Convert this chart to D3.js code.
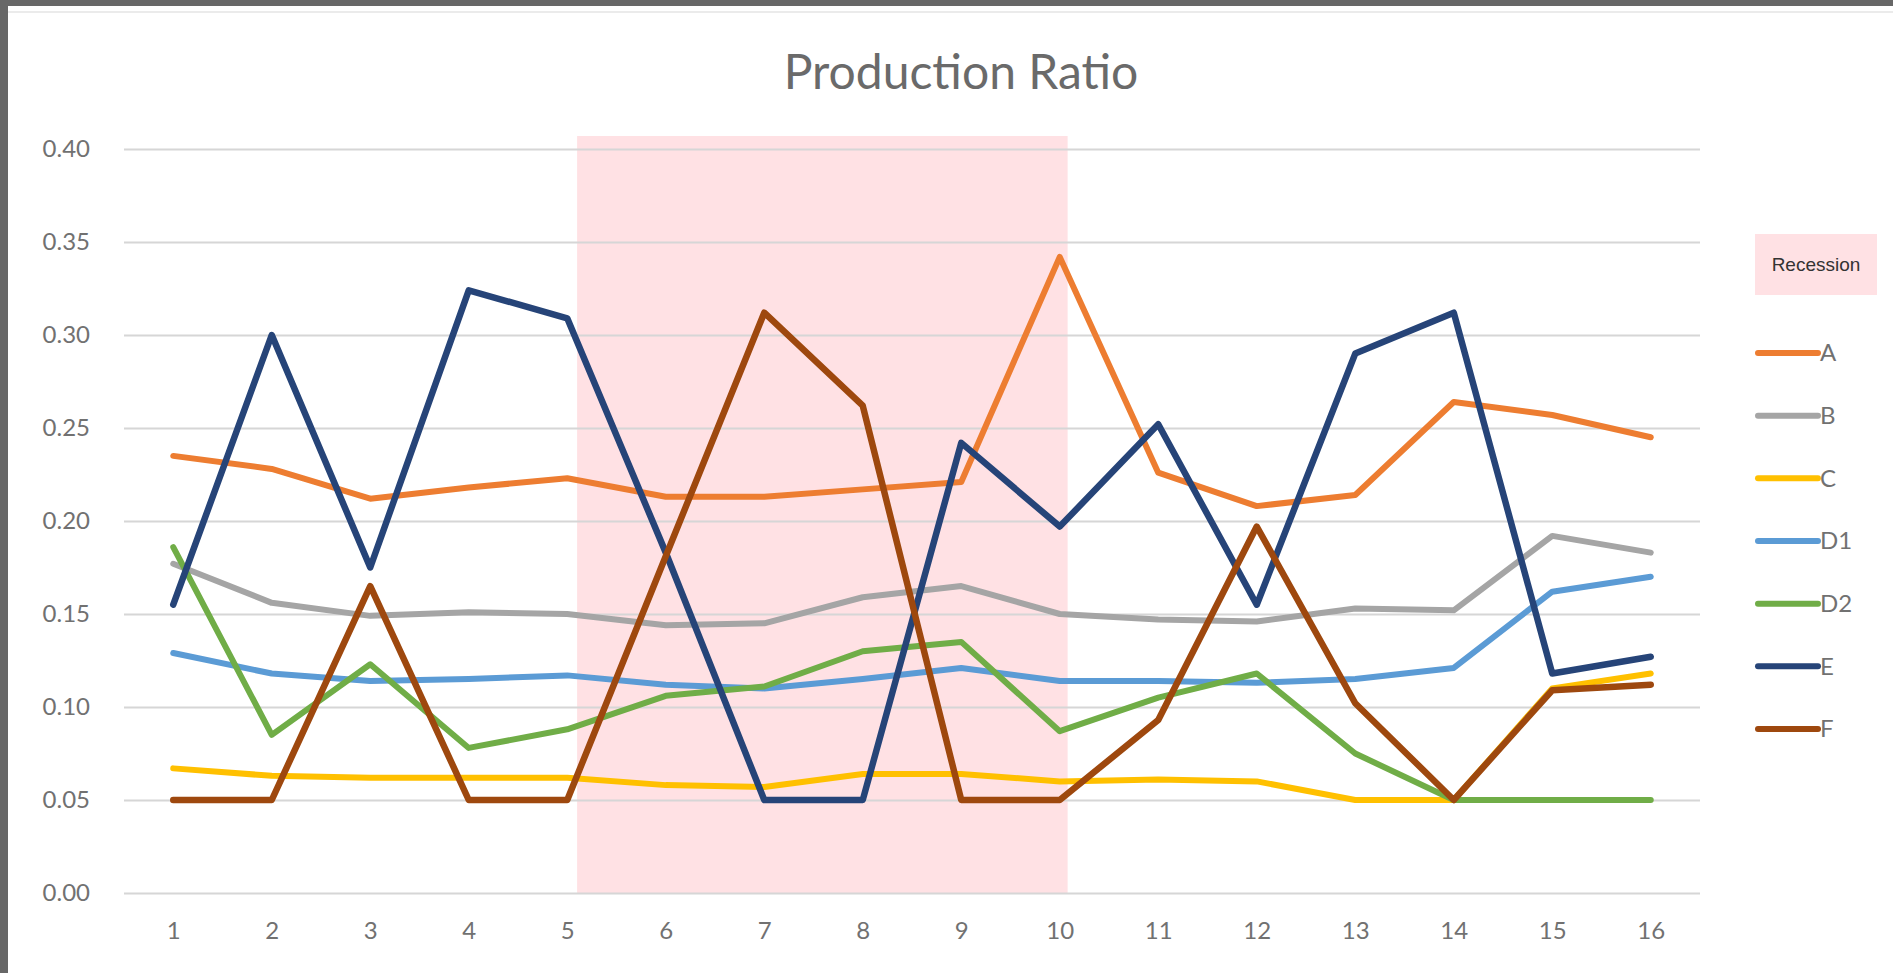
<!DOCTYPE html>
<html>
<head>
<meta charset="utf-8">
<title>Production Ratio</title>
<script src="https://cdn.jsdelivr.net/npm/d3@7"></script>
<style>
  html, body { margin: 0; padding: 0; background: #676767; overflow: hidden; }
  svg { display: block; }
</style>
</head>
<body>
<svg id="chart" width="1893" height="973"></svg>
<script>
// ---- data ----
const categories = [1, 2, 3, 4, 5, 6, 7, 8, 9, 10, 11, 12, 13, 14, 15, 16];
const yTicks = [0.00, 0.05, 0.10, 0.15, 0.20, 0.25, 0.30, 0.35, 0.40];

const seriesA  = [0.235, 0.228, 0.212, 0.218, 0.223, 0.213, 0.213, 0.217, 0.221, 0.342, 0.226, 0.208, 0.214, 0.264, 0.257, 0.245];
const seriesB  = [0.177, 0.156, 0.149, 0.151, 0.150, 0.144, 0.145, 0.159, 0.165, 0.150, 0.147, 0.146, 0.153, 0.152, 0.192, 0.183];
const seriesC  = [0.067, 0.063, 0.062, 0.062, 0.062, 0.058, 0.057, 0.064, 0.064, 0.060, 0.061, 0.060, 0.050, 0.050, 0.110, 0.118];
const seriesD1 = [0.129, 0.118, 0.114, 0.115, 0.117, 0.112, 0.110, 0.115, 0.121, 0.114, 0.114, 0.113, 0.115, 0.121, 0.162, 0.170];
const seriesD2 = [0.186, 0.085, 0.123, 0.078, 0.088, 0.106, 0.111, 0.130, 0.135, 0.087, 0.105, 0.118, 0.075, 0.050, 0.050, 0.050];
const seriesE  = [0.155, 0.300, 0.175, 0.324, 0.309, 0.183, 0.050, 0.050, 0.242, 0.197, 0.252, 0.155, 0.290, 0.312, 0.118, 0.127];
const seriesF  = [0.050, 0.050, 0.165, 0.050, 0.050, 0.181, 0.312, 0.262, 0.050, 0.050, 0.093, 0.197, 0.102, 0.050, 0.109, 0.112];

const seriesNames  = ["A", "B", "C", "D1", "D2", "E", "F"];
const seriesValues = [seriesA, seriesB, seriesC, seriesD1, seriesD2, seriesE, seriesF];
const seriesColors = ["#ED7D31", "#A5A5A5", "#FFC000", "#5B9BD5", "#70AD47", "#264478", "#9E480E"];

// shaded recession period, in category units and axis value
const recessionLabel = "Recession";
const recessionStart = 5.1;
const recessionEnd   = 10.08;
const recessionTop   = 0.407;

const titleText = "Production Ratio";

// ---- layout ----
const W = 1893, H = 973;
const plot = { left: 124, right: 1700, top: 149, bottom: 893 };

const svg = d3.select("#chart");

// outer frame and white chart area
svg.append("rect").attr("x", 0).attr("y", 0).attr("width", W).attr("height", H).attr("fill", "#676767");
svg.append("rect").attr("x", 8).attr("y", 6).attr("width", W - 8).attr("height", H - 6).attr("fill", "#ffffff");
svg.append("line").attr("x1", 8).attr("x2", W).attr("y1", 12).attr("y2", 12)
  .attr("stroke", "#e4e4e4").attr("stroke-width", 1.5);

const x = d3.scaleLinear().domain([0.5, categories.length + 0.5]).range([plot.left, plot.right]);
const y = d3.scaleLinear().domain([0, 0.40]).range([plot.bottom, plot.top]);

// recession band
svg.append("rect")
  .attr("x", x(recessionStart))
  .attr("y", y(recessionTop))
  .attr("width", x(recessionEnd) - x(recessionStart))
  .attr("height", y(0) - y(recessionTop))
  .attr("fill", "#FFE1E4");

// horizontal gridlines
const grid = svg.append("g")
  .attr("transform", `translate(${plot.left},0)`)
  .call(d3.axisLeft(y).tickValues(yTicks).tickSize(-(plot.right - plot.left)).tickFormat(""));
grid.select(".domain").remove();
grid.selectAll(".tick line").attr("stroke", "#d6d6d6").attr("stroke-width", 2);

// y axis labels
const yAxis = svg.append("g")
  .attr("transform", `translate(${plot.left},0)`)
  .call(d3.axisLeft(y).tickValues(yTicks).tickSize(0).tickPadding(34).tickFormat(d3.format(".2f")));
yAxis.select(".domain").remove();
yAxis.selectAll("text")
  .attr("fill", "#717171")
  .style("font-family", "Lato, 'Open Sans', sans-serif")
  .style("font-size", "24px");

// x axis labels
const xAxis = svg.append("g")
  .attr("transform", `translate(0,${plot.bottom})`)
  .call(d3.axisBottom(x).tickValues(categories).tickSize(0).tickPadding(29).tickFormat(d3.format("d")));
xAxis.select(".domain").remove();
xAxis.selectAll("text")
  .attr("fill", "#717171")
  .style("font-family", "Lato, 'Open Sans', sans-serif")
  .style("font-size", "24px");

// series lines
const line = d3.line()
  .x((d, i) => x(categories[i]))
  .y(d => y(d));

svg.append("g").selectAll("path")
  .data(seriesValues)
  .join("path")
  .attr("d", line)
  .attr("fill", "none")
  .attr("stroke", (d, i) => seriesColors[i])
  .attr("stroke-width", (d, i) => (seriesNames[i] === "E" || seriesNames[i] === "F") ? 6.5 : 6)
  .attr("stroke-linejoin", "round")
  .attr("stroke-linecap", "round");

// title
svg.append("text")
  .attr("x", 961).attr("y", 89)
  .attr("text-anchor", "middle")
  .attr("fill", "#6a6a6a")
  .style("font-family", "Lato, 'Open Sans', sans-serif")
  .style("font-size", "48px")
  .text(titleText);

// legend
const legend = svg.append("g");
legend.append("rect")
  .attr("x", 1755).attr("y", 234).attr("width", 122).attr("height", 61)
  .attr("fill", "#FFE1E4");
legend.append("text")
  .attr("x", 1816).attr("y", 264.5).attr("dy", "0.35em")
  .attr("text-anchor", "middle")
  .attr("fill", "#333333")
  .style("font-family", "'Liberation Sans', Arial, sans-serif")
  .style("font-size", "19px")
  .text(recessionLabel);

const legendY = d3.scalePoint().domain(seriesNames).range([353, 729]);
const items = legend.selectAll("g.item")
  .data(seriesNames)
  .join("g")
  .attr("class", "item")
  .attr("transform", d => `translate(0,${legendY(d)})`);
items.append("line")
  .attr("x1", 1758).attr("x2", 1818)
  .attr("stroke", (d, i) => seriesColors[i])
  .attr("stroke-width", 6)
  .attr("stroke-linecap", "round");
items.append("text")
  .attr("x", 1820).attr("dy", "0.35em")
  .attr("fill", "#717171")
  .style("font-family", "Lato, 'Open Sans', sans-serif")
  .style("font-size", "24px")
  .text(d => d);
</script>
</body>
</html>
